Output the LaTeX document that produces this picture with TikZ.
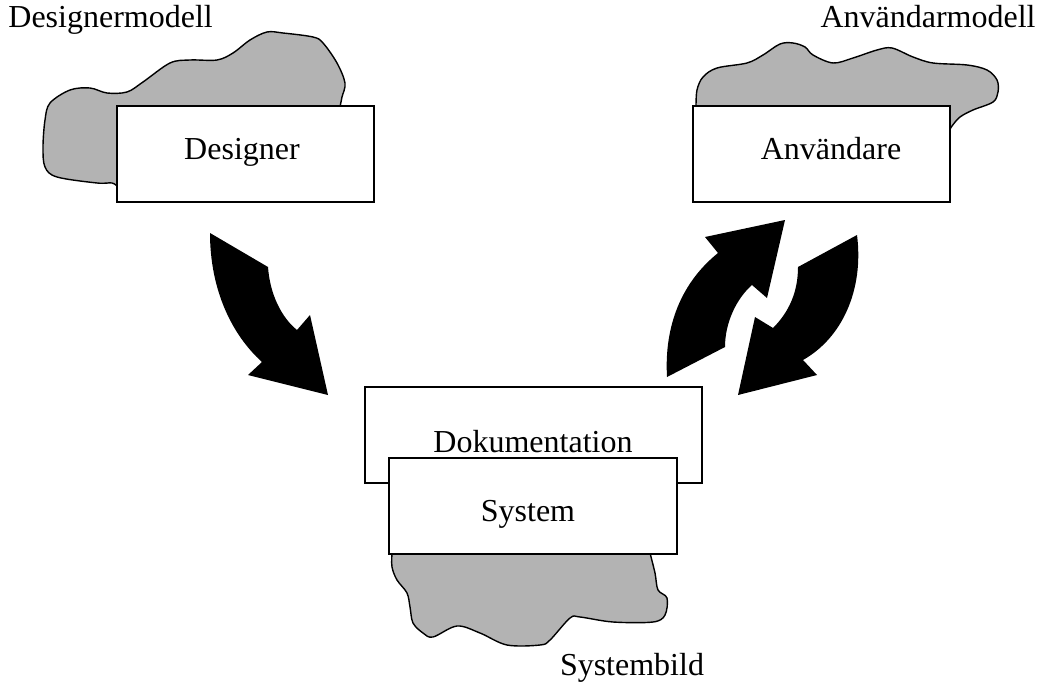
\documentclass[tikz,border=0pt]{standalone}
\usepackage{fontspec}
\setmainfont{Liberation Serif}
\definecolor{blobgray}{RGB}{179,179,179}
\begin{document}
\begin{tikzpicture}[x=0.5pt,y=-0.5pt,
  blob/.style={draw=black,line width=0.7pt,fill=blobgray},
  card/.style={draw=black,line width=0.7pt,fill=white,inner sep=0pt,
    minimum width=128.5pt,minimum height=48pt},
  lbl/.style={inner sep=0pt,font=\fontsize{16pt}{19pt}\selectfont},
  bigarrow/.style={fill=black}]
\useasboundingbox (0,0) rectangle (1042,695);

% cloud behind the designer card (closed under the card)
\path[blob] plot[smooth,tension=0.55] coordinates {
  (118,187) (112,183) (97,183) (57,177) (45,167) (43,147) (45,120)
  (50,103) (70,90) (90,88) (107,93) (127,92) (143,82) (170,63)
  (190,60) (217,60) (233,53) (250,40) (267,32) (283,33) (313,37)
  (323,43) (337,63) (345,83) (342,97) (340,107)}
  -- (300,150) -- cycle;

% cloud behind the user card (closed under the card)
\path[blob] plot[smooth,tension=0.55] coordinates {
  (696,107) (697,90) (703,77) (717,68) (747,63) (763,55) (780,44)
  (793,43) (805,47) (813,55) (833,63) (853,58) (877,50) (892,48)
  (913,57) (933,63) (967,65) (987,70) (997,80) (998,92) (993,102)
  (973,110) (960,117) (952,126) (949,131)}
  -- (820,150) -- cycle;

% cloud below the system card (closed under the card)
\path[blob] plot[smooth,tension=0.55] coordinates {
  (392,553) (392,567) (397,580) (407,593) (410,607) (413,623)
  (423,633) (433,637) (457,626) (480,633) (507,645) (540,645)
  (550,640) (570,618) (580,617) (613,622) (653,622) (665,615)
  (667,598) (658,590) (655,573) (650,553)}
  -- (520,530) -- cycle;

% cards
\node[card] (designer) at (245.5,154) {};
\node[card] (user) at (821.5,154) {};
\node[card,minimum width=168.5pt] (doc) at (533.5,435) {};
\node[card,minimum width=144pt] (system) at (533,506) {};

% card texts
\node[lbl,anchor=base] (designertext) at (242,160) {Designer};
\node[lbl,anchor=base] (usertext) at (831,160) {Användare};
\node[lbl,anchor=base] (doctext) at (533,452) {Dokumentation};
\node[lbl,anchor=base] (systemtext) at (528,521) {System};

% model labels
\node[lbl,anchor=base west] (designermodel) at (8,28) {Designermodell};
\node[lbl,anchor=base east] (usermodel) at (1036,28) {Användarmodell};
\node[lbl,anchor=base] (systemimage) at (632,675) {Systembild};

% curved arrow from the designer down to the system
\path[bigarrow] (210,233) -- (268,267)
  .. controls (270,295) and (282,318) .. (297,330)
  -- (310,315) -- (328,395) -- (248,375) -- (262,362)
  .. controls (232,335) and (210,290) .. (210,233) -- cycle;

% curved arrow up towards the user
\path[bigarrow] (785,220) -- (767,298) -- (752,285)
  .. controls (737,298) and (725,322) .. (725,347)
  -- (667,377)
  .. controls (664,325) and (682,282) .. (718,253)
  -- (705,237) -- cycle;

% curved arrow down from the user
\path[bigarrow] (857,235)
  .. controls (864,290) and (842,338) .. (803,360)
  -- (817,375) -- (738,395) -- (755,317) -- (773,328)
  .. controls (789,312) and (798,292) .. (798,267) -- cycle;
\end{tikzpicture}
\end{document}
